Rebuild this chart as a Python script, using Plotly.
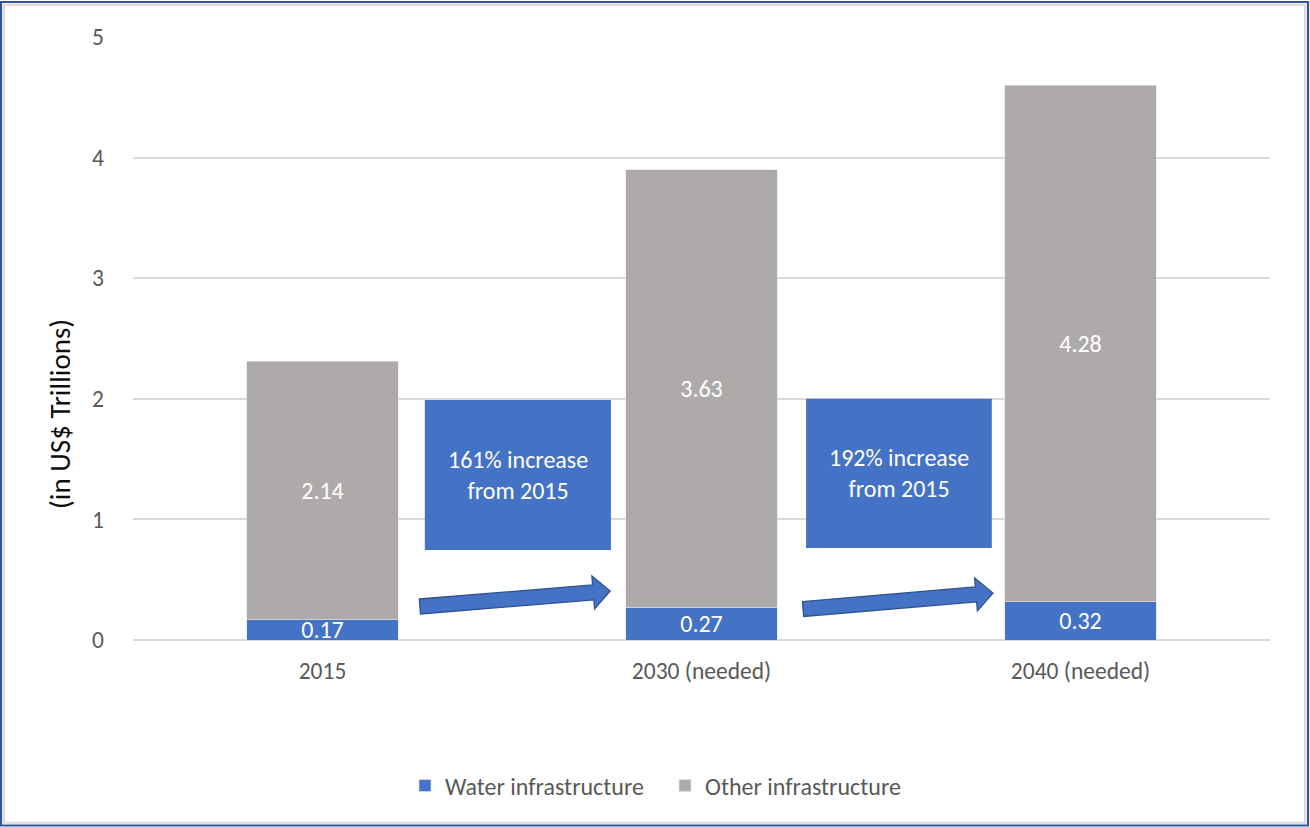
import plotly.graph_objects as go

# Infrastructure investment, in US$ trillions
categories = ["2015", "2030 (needed)", "2040 (needed)"]
water = [0.17, 0.27, 0.32]
other = [2.14, 3.63, 4.28]
callouts = ["161% increase<br>from 2015", "192% increase<br>from 2015"]
y_ticks = [0, 1, 2, 3, 4, 5]

BLUE = "#4472C4"
GRAY = "#AEAAAA"
GRID = "#D9D9D9"
TEXT = "#595959"
FONT = "Carlito, Lato, sans-serif"

W, H = 1310, 827
ML, MR, MT, MB = 133, 40, 37, 187
PW, PH = W - ML - MR, H - MT - MB
Y_MAX = 5


def to_paper(cx, y):
    """Category index / value -> paper coordinates."""
    return (cx + 0.5) / len(categories), y / Y_MAX


def px_to_paper(px, py):
    return (px - ML) / PW, (H - MB - py) / PH


fig = go.Figure()
fig.add_trace(go.Bar(
    name="Water infrastructure", x=categories, y=water,
    marker=dict(color=BLUE, line=dict(color="#E4E4E4", width=0.6)),
    texttemplate="%{y:.2f}", textposition="inside", insidetextanchor="middle",
    textangle=0, textfont=dict(color="white", size=24, family=FONT),
))
fig.add_trace(go.Bar(
    name="Other infrastructure", x=categories, y=other,
    marker=dict(color=GRAY, line=dict(color="#E4E4E4", width=0.6)),
    texttemplate="%{y:.2f}", textposition="inside", insidetextanchor="middle",
    textangle=0, textfont=dict(color="white", size=24, family=FONT),
))

shapes = []
annotations = []

# Callout boxes between the bars
boxes = [((0.27, 0.761), (0.746, 1.99)), ((1.276, 1.766), (0.763, 2.0))]
for (bx, by), label in zip(boxes, callouts):
    x0, y0 = to_paper(bx[0], by[0])
    x1, y1 = to_paper(bx[1], by[1])
    shapes.append(dict(type="rect", xref="paper", yref="paper",
                       x0=x0, x1=x1, y0=y0, y1=y1,
                       fillcolor=BLUE, line=dict(width=0), layer="above"))
    annotations.append(dict(xref="paper", yref="paper", x=(x0 + x1) / 2,
                            y=(y0 + y1) / 2, xanchor="center",
                            yanchor="middle", text=label, showarrow=False,
                            font=dict(color="white", size=24, family=FONT),
                            align="center"))


# Block arrows pointing to the future bars
def block_arrow(start, end, shaft=7.5, head=16.5, head_len=17):
    sx, sy = PW / len(categories), PH / Y_MAX
    # work in pixel space (y down)
    ax, ay = ML + (start[0] + 0.5) * sx, H - MB - start[1] * sy
    bx, by = ML + (end[0] + 0.5) * sx, H - MB - end[1] * sy
    dx, dy = bx - ax, by - ay
    n = (dx ** 2 + dy ** 2) ** 0.5
    ux, uy = dx / n, dy / n
    nx, ny = -uy, ux
    hx, hy = bx - ux * head_len, by - uy * head_len
    pts = [
        (ax - nx * shaft, ay - ny * shaft),
        (hx - nx * shaft, hy - ny * shaft),
        (hx - nx * head, hy - ny * head),
        (bx, by),
        (hx + nx * head, hy + ny * head),
        (hx + nx * shaft, hy + ny * shaft),
        (ax + nx * shaft, ay + ny * shaft),
    ]
    pp = [px_to_paper(x, y) for x, y in pts]
    return "M " + " L ".join(f"{x:.5f},{y:.5f}" for x, y in pp) + " Z"


arrows = [((0.257, 0.278), (0.759, 0.406)), ((1.268, 0.257), (1.769, 0.390))]
for a, b in arrows:
    shapes.append(dict(type="path", xref="paper", yref="paper",
                       path=block_arrow(a, b), fillcolor=BLUE,
                       line=dict(color="#2F528F", width=1.3), layer="above"))

# Chart frame
ox0, oy0 = px_to_paper(1, 825.5)
ox1, oy1 = px_to_paper(1308, 2)
shapes.append(dict(type="rect", xref="paper", yref="paper", x0=ox0, x1=ox1,
                   y0=oy0, y1=oy1, line=dict(color="#2F5597", width=2.2),
                   fillcolor="rgba(0,0,0,0)", layer="above"))
ix0, iy0 = px_to_paper(4, 822.8)
ix1, iy1 = px_to_paper(1305, 4.8)
shapes.append(dict(type="rect", xref="paper", yref="paper", x0=ix0, x1=ix1,
                   y0=iy0, y1=iy1, line=dict(color=GRID, width=2),
                   fillcolor="rgba(0,0,0,0)", layer="above"))

# Axis title
tx, ty = px_to_paper(60, 414)
annotations.append(dict(xref="paper", yref="paper", x=tx, y=ty,
                        xanchor="center", yanchor="middle",
                        text="(in US$ Trillions)", textangle=-90,
                        showarrow=False, font=dict(color="#0D0D0D", size=29,
                                                   family=FONT)))

fig.update_layout(
    width=W, height=H,
    margin=dict(l=ML, r=MR, t=MT, b=MB),
    paper_bgcolor="white", plot_bgcolor="white",
    barmode="stack", bargap=0.6,
    font=dict(family=FONT, color=TEXT, size=23),
    uniformtext=dict(minsize=24, mode="show"),
    showlegend=True,
    legend=dict(orientation="h", xref="container", yref="container",
                x=(425 - 20) / W, xanchor="left", y=1 - 786 / H,
                yanchor="middle", entrywidth=215, entrywidthmode="pixels",
                traceorder="normal", font=dict(size=24, color=TEXT),
                itemclick=False),
    shapes=shapes, annotations=annotations,
    xaxis=dict(showgrid=False, showline=False, ticks="",
               tickfont=dict(size=23.5, color=TEXT), ticklabelstandoff=14),
    yaxis=dict(range=[0, Y_MAX], tickvals=y_ticks, showgrid=True,
               gridcolor=GRID, gridwidth=1.5, zeroline=True,
               zerolinecolor=GRID, zerolinewidth=1.5, showline=False,
               ticks="", tickfont=dict(size=23.5, color=TEXT),
               ticklabelstandoff=28),
)

fig.write_html("out.html")
